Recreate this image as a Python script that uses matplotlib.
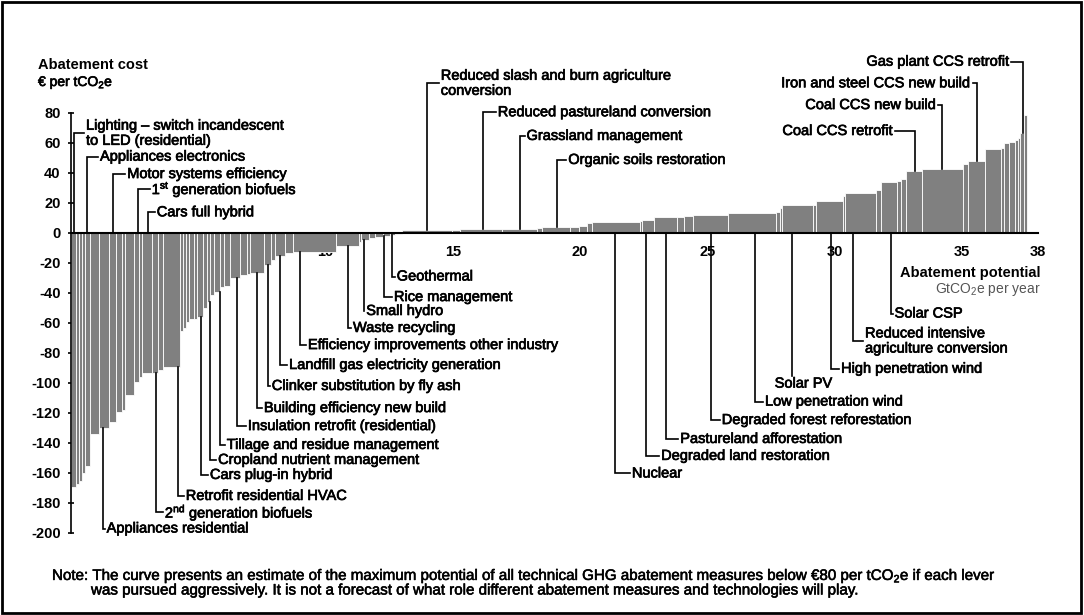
import matplotlib
matplotlib.use('Agg')
import matplotlib.pyplot as plt
import matplotlib.patheffects as pe
import numpy as np
from matplotlib.patches import Rectangle

plt.rcParams['font.family'] = ['Liberation Sans', 'DejaVu Sans']
plt.rcParams['mathtext.default'] = 'regular'

# abatement potential of each lever (GtCO2e per year) and its cost (EUR per tCO2e)
widths = [0.20, 0.10, 0.12, 0.14, 0.19, 0.35, 0.40, 0.26, 0.26, 0.12,
          0.33, 0.19, 0.14, 0.37, 0.26, 0.20, 0.67, 0.10, 0.10, 0.14,
          0.20, 0.10, 0.23, 0.16, 0.14, 0.15, 0.24, 0.16, 0.21, 0.43,
          0.24, 0.13, 0.57, 0.25, 0.15, 0.40, 0.34, 1.66, 0.90, 0.10,
          0.32, 0.22, 0.31, 0.29, 0.21, 0.25, 1.96, 0.34, 1.62, 1.38,
          0.22, 1.08, 0.35, 0.31, 0.22, 1.86, 0.09, 0.47, 0.92, 0.26,
          0.37, 1.37, 1.90, 0.12, 0.11, 1.21, 0.12, 1.04, 0.10, 1.22,
          0.17, 0.65, 0.15, 0.19, 0.64, 1.62, 0.19, 0.65, 0.65, 0.13,
          0.18, 0.22, 0.12, 0.10, 0.14, 0.14]
costs = [-169, -167, -165, -160, -155, -134, -130, -126, -119, -118,
         -108, -99, -96, -93, -93, -91, -89, -65, -63, -59,
         -57.5, -57, -56, -50, -46, -41, -39, -36, -35, -30,
         -28, -27, -26.5, -21, -18, -15, -13.5, -12.5, -8.7, -5.8,
         -4.7, -3.6, -2.5, -1.8, -1.3, -0.6, 1.8, 2.0, 2.4, 2.6,
         3.6, 4.2, 4.2, 5.0, 6.4, 7.3, 8.0, 9.0, 10.4, 11.0,
         11.5, 11.8, 13.3, 14.0, 17.0, 18.7, 18.9, 21.3, 25.0, 26.9,
         29.0, 33.8, 35.0, 36.0, 41.3, 43.0, 46.0, 48.0, 55.8, 56.5,
         60.0, 60.5, 62.0, 63.5, 66.5, 78.7]

x_ticks = [5, 10, 15, 20, 25, 30, 35, 38]
y_ticks = list(range(-200, 81, 20))

# labels below the axis: (text, leader x, label y, text x)
below_labels = [
    ("Appliances residential", 1.27, -197.0, 1.40),
    ("2$^{nd}$ generation biofuels", 3.34, -186.3, 3.69),
    ("Retrofit residential HVAC", 4.22, -175.3, 4.51),
    ("Cars plug-in hybrid", 5.12, -161.3, 5.46),
    ("Cropland nutrient management", 5.46, -151.3, 5.78),
    ("Tillage and residue management", 5.85, -141.3, 6.12),
    ("Insulation retrofit (residential)", 6.51, -128.7, 6.95),
    ("Building efficiency new build", 7.30, -116.7, 7.58),
    ("Clinker substitution by fly ash", 7.75, -102.0, 7.89),
    ("Landfill gas electricity generation", 8.21, -88.0, 8.57),
    ("Efficiency improvements other industry", 9.00, -74.7, 9.31),
    ("Waste recycling", 10.87, -63.3, 11.08),
    ("Small hydro", 11.51, -52.0, 11.60),
    ("Rice management", 12.30, -42.7, 12.69),
    ("Geothermal", 12.63, -29.0, 12.80),
    ("Nuclear", 21.39, -160.3, 22.04),
    ("Degraded land restoration", 22.58, -148.6, 23.19),
    ("Pastureland afforestation", 23.39, -137.3, 23.94),
    ("Degraded forest reforestation", 25.16, -124.7, 25.57),
    ("Low penetration wind", 26.86, -112.4, 27.27),
    ("High penetration wind", 29.88, -90.5, 30.26),
    ("Reduced intensive\nagriculture conversion", 30.73, -72.0, 31.20),
    ("Solar CSP", 32.22, -53.7, 32.36),
]
# labels above, text to the right of the leader
above_left_labels = [
    ("Lighting \u2013 switch incandescent\nto LED (residential)", 0.12, 66.5, 0.59),
    ("Appliances electronics", 0.64, 50.9, 1.14),
    ("Motor systems efficiency", 1.64, 39.3, 2.21),
    ("1$^{st}$ generation biofuels", 2.65, 29.1, 3.17),
    ("Cars full hybrid", 3.04, 13.8, 3.37),
    ("Reduced slash and burn agriculture\nconversion", 14.00, 99.8, 14.53),
    ("Reduced pastureland conversion", 16.18, 80.5, 16.77),
    ("Grassland management", 17.64, 64.7, 17.90),
    ("Organic soils restoration", 19.11, 48.7, 19.54),
]
# labels above, text to the left of the leader
above_right_labels = [
    ("Gas plant CCS retrofit", 37.39, 114.2, 36.90),
    ("Iron and steel CCS new build", 35.59, 99.8, 35.39),
    ("Coal CCS new build", 34.24, 85.3, 34.02),
    ("Coal CCS retrofit", 33.16, 68.0, 32.31),
]
solar_pv = ("Solar PV", 28.33, -95.0, 27.65, -100.4)

W, H = 1084, 615
fig = plt.figure(figsize=(W / 100, H / 100), dpi=100)
ax = fig.add_axes([71 / W, (H - 540.5) / H, 979.8 / W, 495 / H])
ax.set_xlim(0, 38.5)
ax.set_ylim(-205, 125)

lefts = np.concatenate([[0], np.cumsum(widths)[:-1]])
ax.bar(lefts, costs, width=widths, align='edge', color='#808080',
       edgecolor='white', linewidth=0.6, zorder=2)
rights = lefts + np.array(widths)


def cost_at(x):
    i = int(np.searchsorted(rights, x))
    i = min(i, len(costs) - 1)
    return costs[i]


heavy = [pe.withStroke(linewidth=0.5, foreground='black')]
lab_kw = dict(fontsize=10.5, color='black', zorder=5, path_effects=heavy)
line_kw = dict(color='black', lw=1.2, zorder=4, clip_on=False,
               solid_joinstyle='miter')

for text, lx, ly, tx in below_labels:
    y0 = min(cost_at(lx), 0)
    ax.plot([lx, lx, tx - 0.08], [y0, ly, ly], **line_kw)
    ax.text(tx, ly, text, ha='left', va='center', linespacing=1.1, **lab_kw)

for text, lx, ly, tx in above_left_labels:
    y0 = max(cost_at(lx), 0)
    ax.plot([lx, lx, tx - 0.08], [y0, ly, ly], **line_kw)
    ax.text(tx, ly, text, ha='left', va='center', linespacing=1.1, **lab_kw)

for text, lx, ly, tx in above_right_labels:
    y0 = max(cost_at(lx), 0)
    ax.plot([tx + 0.05, lx, lx], [ly, ly, y0], **line_kw)
    ax.text(tx, ly, text, ha='right', va='center', **lab_kw)

text, lx, ly, tx, ty = solar_pv
ax.plot([lx, lx], [0, ly], **line_kw)
ax.text(tx, ty, text, ha='left', va='center', **lab_kw)

# axes styling
for s in ['top', 'right']:
    ax.spines[s].set_visible(False)
ax.spines['bottom'].set_position(('data', 0))
ax.spines['bottom'].set_bounds(0, 38)
ax.spines['bottom'].set_linewidth(1.5)
ax.spines['bottom'].set_zorder(3)
ax.spines['left'].set_bounds(-200, 80)
ax.spines['left'].set_linewidth(1.2)

ax.set_xticks(x_ticks)
ax.set_xticklabels([str(t) for t in x_ticks], fontsize=10.5, fontweight='bold')
ax.tick_params(axis='x', direction='in', length=4, width=1, color='white', pad=9)
for lbl in ax.get_xticklabels():
    lbl.set_bbox(dict(facecolor='white', edgecolor='none', pad=1))
ax.set_yticks(y_ticks)
ax.set_yticklabels([str(t) for t in y_ticks], fontsize=10.5, fontweight='bold')
ax.tick_params(axis='y', direction='inout', length=5, width=1.2, pad=5)

# axis titles
fig.text(38 / W, 1 - 65 / H, "Abatement cost", fontsize=10.5, fontweight='bold',
         ha='left', va='center')
fig.text(38 / W, 1 - 82.5 / H, "\u20ac per tCO$_2$e", fontsize=10, ha='left',
         va='center', path_effects=heavy)
fig.text(1041 / W, 1 - 273 / H, "Abatement potential", fontsize=10.5,
         fontweight='bold', ha='right', va='center')
fig.text(1041 / W, 1 - 289 / H, "GtCO$_2$e per year", fontsize=10, color='#555555',
         ha='right', va='center')

# note
note_kw = dict(fontsize=10.9, ha='left', va='center',
               path_effects=[pe.withStroke(linewidth=0.4, foreground='black')])
fig.text(52 / W, 1 - 576 / H,
         "Note: The curve presents an estimate of the maximum potential of all technical "
         "GHG abatement measures below \u20ac80 per tCO$_2$e if each lever", **note_kw)
fig.text(91 / W, 1 - 590.5 / H,
         "was pursued aggressively. It is not a forecast of what role different "
         "abatement measures and technologies will play.", **note_kw)

fig.patches.append(Rectangle((0.002, 0.003), 0.995, 0.993, transform=fig.transFigure,
                             fill=False, edgecolor='black', linewidth=2))

fig.savefig('out.png', dpi=100)
